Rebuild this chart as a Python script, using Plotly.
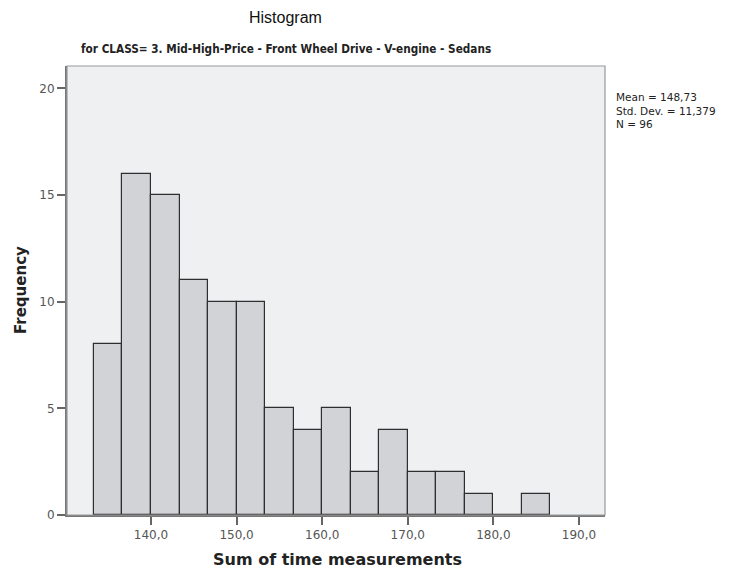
import plotly.graph_objects as go

# Data
bin_start = 133.3333
bin_width = 10 / 3
counts = [8, 16, 15, 11, 10, 10, 5, 4, 5, 2, 4, 2, 2, 1, 0, 1]
x_ticks = [140, 150, 160, 170, 180, 190]
y_ticks = [0, 5, 10, 15, 20]
stats_text = ["Mean = 148,73", "Std. Dev. = 11,379", "N = 96"]

centers = [bin_start + bin_width * (i + 0.5) for i in range(len(counts))]

L, R, T, B = 67, 605, 66, 515
PW, PH = R - L, B - T

def px(x):
    return (x - L) / PW

def py(y):
    return 1 - (y - T) / PH

fig = go.Figure()
fig.add_trace(go.Bar(
    x=centers, y=counts, width=[bin_width] * len(counts),
    marker=dict(color="#d2d3d6", line=dict(color="#2e2e2e", width=1.2)),
    hoverinfo="x+y",
))

fig.update_layout(
    width=734, height=570,
    margin=dict(l=L, r=734 - R, t=T, b=570 - B),
    paper_bgcolor="white", plot_bgcolor="#eff0f2",
    separators=",.",
    showlegend=False,
    bargap=0,
    font=dict(family="DejaVu Sans", size=11, color="#444"),
)

fig.update_xaxes(
    range=[130.19, 193.04], tickvals=x_ticks, tickformat=".1f",
    ticks="outside", ticklen=8, tickcolor="#666", tickwidth=2,
    showline=True, linecolor="#777", linewidth=2, mirror=False,
    showgrid=False, zeroline=False, automargin=False,
    tickfont=dict(family="DejaVu Sans", size=12, color="#555"),
)
fig.update_yaxes(
    range=[0, 21.05], tickvals=y_ticks,
    ticks="outside", ticklen=8, tickcolor="#666", tickwidth=2,
    showline=True, linecolor="#777", linewidth=2,
    showgrid=False, zeroline=False, automargin=False,
    tickfont=dict(family="DejaVu Sans", size=12, color="#555"),
)

# light frame on top and right
fig.add_shape(type="rect", xref="paper", yref="paper", x0=0, y0=0, x1=1, y1=1,
              line=dict(color="#999", width=1.2), layer="above")

fig.add_annotation(text="<b>Sum of time measurements</b>", xref="paper", yref="paper",
                   x=px(337), y=py(559), showarrow=False,
                   font=dict(family="DejaVu Sans", size=16, color="#222"),
                   xanchor="center", yanchor="middle")
fig.add_annotation(text="<b>Frequency</b>", xref="paper", yref="paper",
                   x=px(21), y=py(290), showarrow=False, textangle=-90,
                   font=dict(family="DejaVu Sans", size=15, color="#222"),
                   xanchor="center", yanchor="middle")

fig.add_annotation(text="Histogram", xref="paper", yref="paper",
                   x=px(285), y=py(18), showarrow=False,
                   font=dict(family="Liberation Sans", size=16, color="#111"),
                   xanchor="center", yanchor="middle")
fig.add_annotation(text="<b>for CLASS= 3. Mid-High-Price - Front Wheel Drive - V-engine - Sedans</b>",
                   xref="paper", yref="paper",
                   x=px(286), y=py(49), showarrow=False,
                   font=dict(family="DejaVu Sans Condensed, Liberation Sans", size=11.7, color="#222"),
                   xanchor="center", yanchor="middle")
fig.add_annotation(text="<br>".join(stats_text), xref="paper", yref="paper",
                   x=px(614), y=py(89), showarrow=False,
                   align="left", xanchor="left", yanchor="top",
                   font=dict(family="DejaVu Sans", size=10.5, color="#222"))

fig.write_html("out.html")
